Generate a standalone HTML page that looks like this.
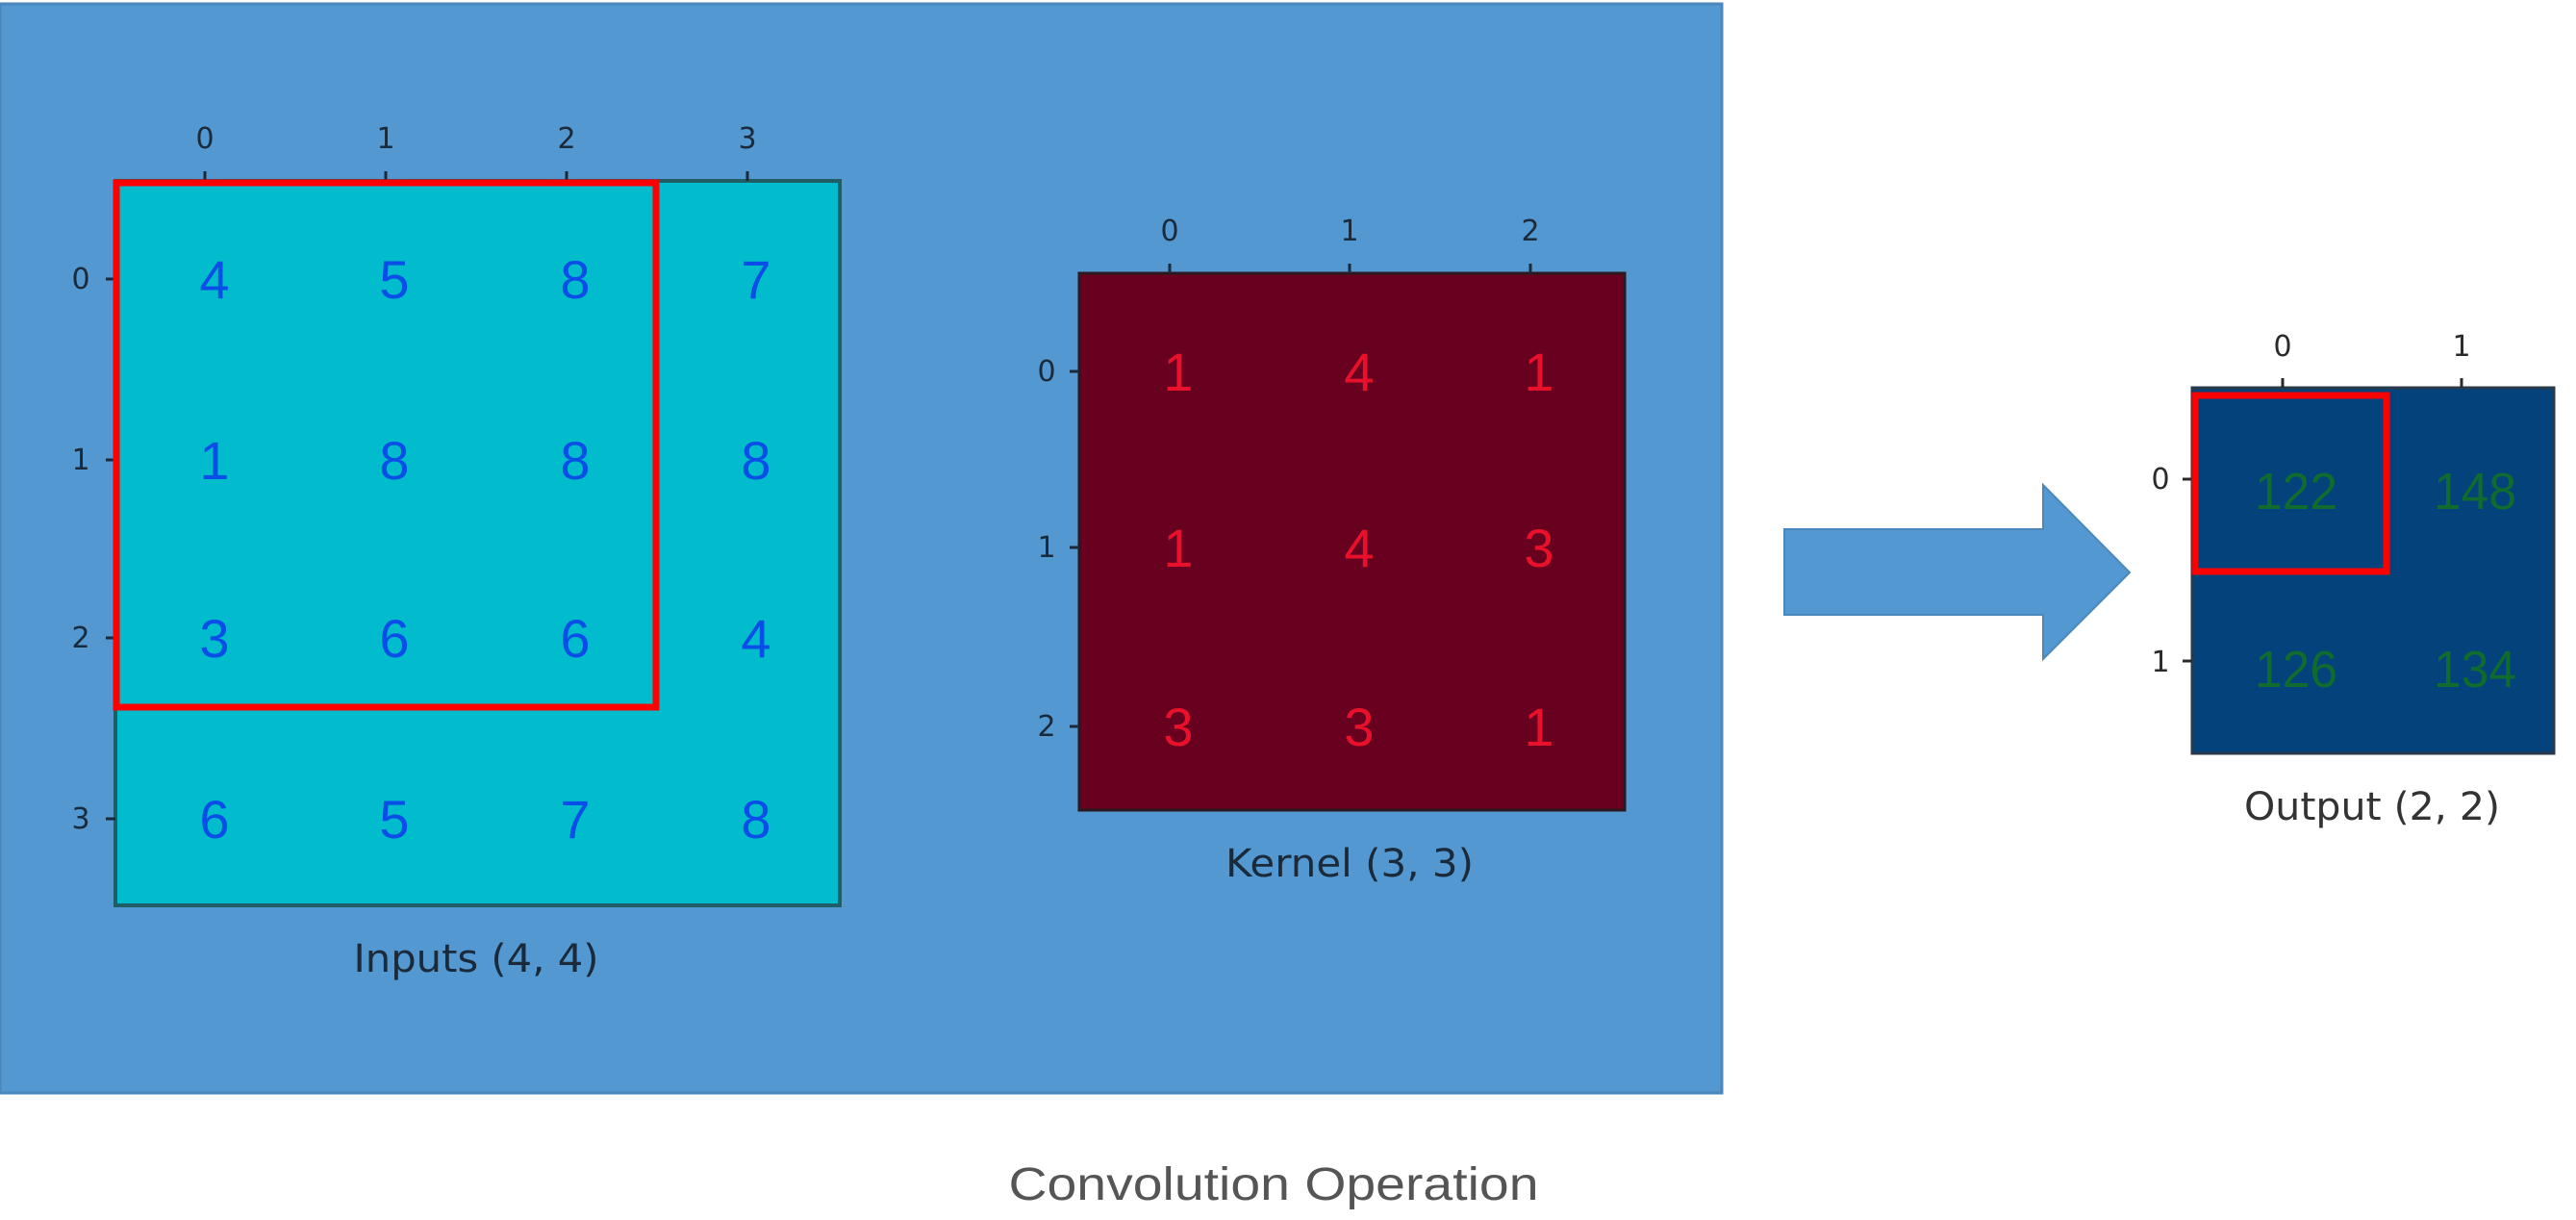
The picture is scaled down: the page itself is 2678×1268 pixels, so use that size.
<!DOCTYPE html>
<html><head><meta charset="utf-8"><style>
html,body{margin:0;padding:0;background:#fff;}
svg{display:block;}
</style></head><body>
<svg width="2678" height="1268" viewBox="0 0 2678 1268" xmlns="http://www.w3.org/2000/svg" font-family="'DejaVu Sans','Liberation Sans',sans-serif">
<rect x="0" y="0" width="2678" height="1268" fill="#fff"/>
<rect x="0" y="4" width="1790" height="1132" fill="#5398d0" stroke="#4a88bb" stroke-width="3"/>

<!-- Inputs -->
<rect x="120" y="188" width="753" height="753" fill="#00bccc" stroke="#1f5e66" stroke-width="4"/>
<g fill="#1a2a3a" font-size="30" text-anchor="middle">
<text x="213" y="154">0</text><text x="401" y="154">1</text><text x="589" y="154">2</text><text x="777" y="154">3</text>
<text x="84" y="300">0</text><text x="84" y="488">1</text><text x="84" y="673">2</text><text x="84" y="861">3</text>
</g>
<g stroke="#1a2a3a" stroke-width="3">
<line x1="213" y1="178" x2="213" y2="188"/><line x1="401" y1="178" x2="401" y2="188"/><line x1="589" y1="178" x2="589" y2="188"/><line x1="777" y1="178" x2="777" y2="188"/>
<line x1="110" y1="290" x2="120" y2="290"/><line x1="110" y1="478" x2="120" y2="478"/><line x1="110" y1="663" x2="120" y2="663"/><line x1="110" y1="851" x2="120" y2="851"/>
</g>
<g fill="#0a4ee8" font-size="56" text-anchor="middle" font-family="'Liberation Sans',sans-serif">
<text x="223" y="310">4</text><text x="410" y="310">5</text><text x="598" y="310">8</text><text x="786" y="310">7</text>
<text x="223" y="498">1</text><text x="410" y="498">8</text><text x="598" y="498">8</text><text x="786" y="498">8</text>
<text x="223" y="683">3</text><text x="410" y="683">6</text><text x="598" y="683">6</text><text x="786" y="683">4</text>
<text x="223" y="871">6</text><text x="410" y="871">5</text><text x="598" y="871">7</text><text x="786" y="871">8</text>
</g>
<rect x="121" y="190" width="561" height="545" fill="none" stroke="#ff0000" stroke-width="7"/>
<text x="495" y="1010" font-size="40" fill="#1a2a3a" text-anchor="middle" textLength="255" lengthAdjust="spacingAndGlyphs">Inputs (4, 4)</text>

<!-- Kernel -->
<rect x="1122" y="284" width="567" height="558" fill="#680020" stroke="#2a1a20" stroke-width="3"/>
<g fill="#1a2a3a" font-size="30" text-anchor="middle">
<text x="1216" y="250">0</text><text x="1403" y="250">1</text><text x="1591" y="250">2</text>
<text x="1088" y="396">0</text><text x="1088" y="579">1</text><text x="1088" y="765">2</text>
</g>
<g stroke="#1a2a3a" stroke-width="3">
<line x1="1216" y1="274" x2="1216" y2="284"/><line x1="1403" y1="274" x2="1403" y2="284"/><line x1="1591" y1="274" x2="1591" y2="284"/>
<line x1="1112" y1="386" x2="1122" y2="386"/><line x1="1112" y1="569" x2="1122" y2="569"/><line x1="1112" y1="755" x2="1122" y2="755"/>
</g>
<g fill="#e8102a" font-size="56" text-anchor="middle" font-family="'Liberation Sans',sans-serif">
<text x="1225" y="406">1</text><text x="1413" y="406">4</text><text x="1600" y="406">1</text>
<text x="1225" y="589">1</text><text x="1413" y="589">4</text><text x="1600" y="589">3</text>
<text x="1225" y="775">3</text><text x="1413" y="775">3</text><text x="1600" y="775">1</text>
</g>
<text x="1403" y="911" font-size="40" fill="#1a2a3a" text-anchor="middle" textLength="258" lengthAdjust="spacingAndGlyphs">Kernel (3, 3)</text>

<!-- Arrow -->
<polygon points="1855,550 2124,550 2124,504 2214,595 2124,685 2124,639 1855,639" fill="#5398d0" stroke="#4a88bb" stroke-width="2"/>

<!-- Output -->
<rect x="2279" y="403" width="376" height="380" fill="#03427a" stroke="#2a3a4a" stroke-width="3"/>
<g fill="#2a2a2a" font-size="30" text-anchor="middle">
<text x="2373" y="370">0</text><text x="2559" y="370">1</text>
<text x="2246" y="508">0</text><text x="2246" y="698">1</text>
</g>
<g stroke="#2a2a2a" stroke-width="3">
<line x1="2373" y1="393" x2="2373" y2="403"/><line x1="2559" y1="393" x2="2559" y2="403"/>
<line x1="2269" y1="498" x2="2279" y2="498"/><line x1="2269" y1="687" x2="2279" y2="687"/>
</g>
<g fill="#0f6b2e" font-size="54" text-anchor="middle" font-family="'Liberation Sans',sans-serif">
<text x="2387" y="529" textLength="86" lengthAdjust="spacingAndGlyphs">122</text><text x="2573" y="529" textLength="86" lengthAdjust="spacingAndGlyphs">148</text>
<text x="2387" y="714" textLength="86" lengthAdjust="spacingAndGlyphs">126</text><text x="2573" y="714" textLength="86" lengthAdjust="spacingAndGlyphs">134</text>
</g>
<rect x="2282" y="411" width="199" height="183" fill="none" stroke="#ff0000" stroke-width="7"/>
<text x="2466" y="852" font-size="40" fill="#333" text-anchor="middle" textLength="266" lengthAdjust="spacingAndGlyphs">Output (2, 2)</text>

<text x="1324" y="1247" font-size="48" fill="#555" text-anchor="middle" textLength="551" lengthAdjust="spacingAndGlyphs" font-family="'Liberation Sans',sans-serif">Convolution Operation</text>
</svg>
</body></html>
